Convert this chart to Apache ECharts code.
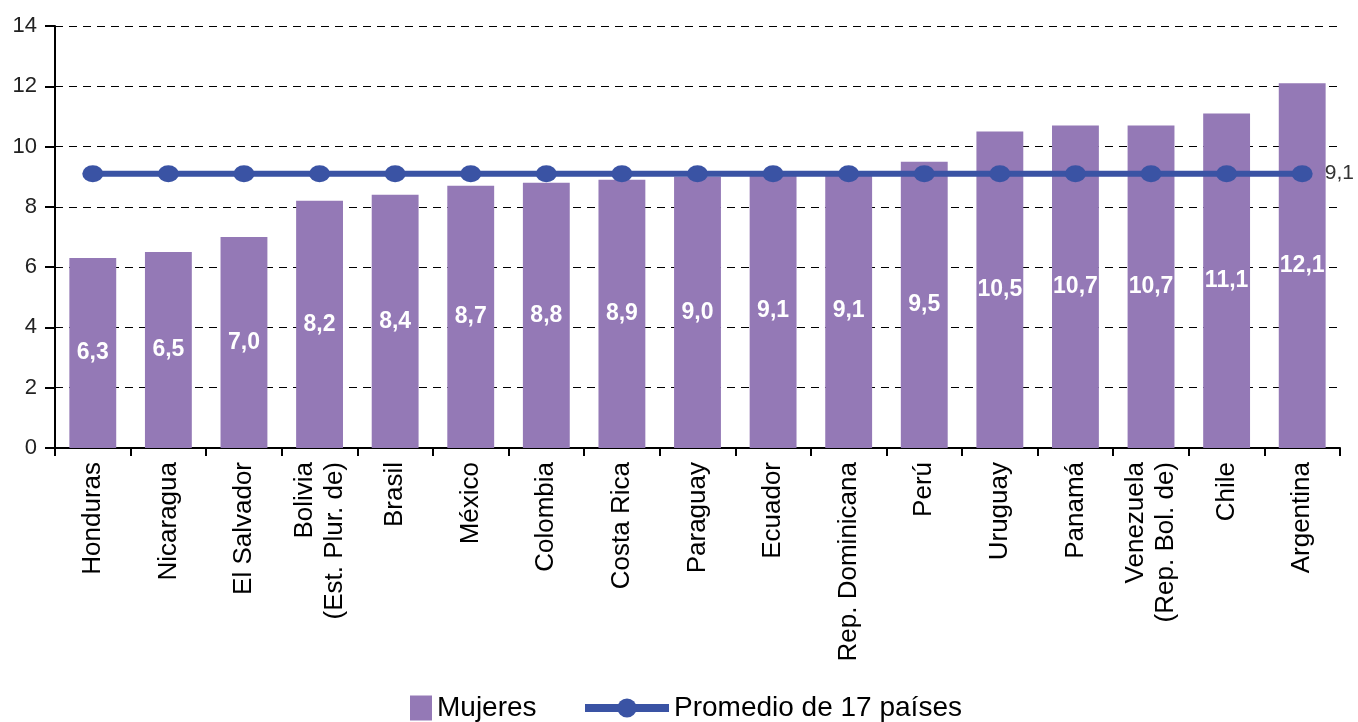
<!DOCTYPE html>
<html>
<head>
<meta charset="utf-8">
<script src="https://cdn.jsdelivr.net/npm/echarts@6/dist/echarts.min.js"></script>
<style>
  html, body { margin: 0; padding: 0; background: #fff; }
  #main { width: 1358px; height: 722px; }
</style>
</head>
<body>
<div id="main"></div>
<script>
const countries = [
  'Honduras', 'Nicaragua', 'El Salvador', 'Bolivia\n(Est. Plur. de)', 'Brasil',
  'México', 'Colombia', 'Costa Rica', 'Paraguay', 'Ecuador',
  'Rep. Dominicana', 'Perú', 'Uruguay', 'Panamá', 'Venezuela\n(Rep. Bol. de)',
  'Chile', 'Argentina'
]
const mujeres = [6.3, 6.5, 7.0, 8.2, 8.4, 8.7, 8.8, 8.9, 9.0, 9.1, 9.1, 9.5, 10.5, 10.7, 10.7, 11.1, 12.1]
const promedio = [9.1, 9.1, 9.1, 9.1, 9.1, 9.1, 9.1, 9.1, 9.1, 9.1, 9.1, 9.1, 9.1, 9.1, 9.1, 9.1, 9.1]
const yTicks = [0, 2, 4, 6, 8, 10, 12, 14]

const fmt = (v) => v.toFixed(1).replace('.', ',')
const font = 'Liberation Sans, Arial, sans-serif'

const chart = echarts.init(document.getElementById('main'))

const option = {
  animation: false,
  textStyle: { fontFamily: font },
  grid: { left: 55, right: 18, top: 26, bottom: 274 },
  legend: [
    {
      data: [{ name: 'Mujeres', icon: 'rect' }],
      left: 405,
      top: 689,
      itemWidth: 22,
      itemHeight: 25,
      itemGap: 8,
      textStyle: { fontSize: 28, color: '#000', fontFamily: font }
    },
    {
      data: ['Promedio de 17 países'],
      left: 576,
      top: 689,
      itemWidth: 84,
      itemHeight: 24,
      itemGap: 8,
      lineStyle: { width: 8 },
      textStyle: { fontSize: 28, color: '#000', fontFamily: font }
    }
  ],
  xAxis: {
    type: 'category',
    data: countries,
    axisLine: { lineStyle: { color: '#000', width: 2 } },
    axisTick: { show: true, length: 8, lineStyle: { color: '#000', width: 2 } },
    axisLabel: {
      rotate: 90,
      fontSize: 26,
      color: '#000',
      margin: 14,
      lineHeight: 30,
      fontFamily: font
    }
  },
  yAxis: {
    type: 'value',
    min: yTicks[0],
    max: yTicks[yTicks.length - 1],
    interval: 2,
    axisLine: { show: true, lineStyle: { color: '#000', width: 2 } },
    axisTick: { show: true, length: 10, lineStyle: { color: '#000', width: 2 } },
    axisLabel: { fontSize: 22, color: '#222', margin: 18, fontFamily: font },
    splitLine: { show: true, lineStyle: { color: '#000', width: 1, type: [8, 6] } }
  },
  series: [
    {
      name: 'Mujeres',
      type: 'bar',
      data: mujeres,
      barWidth: '62%',
      itemStyle: { color: '#9479B6' },
      label: {
        show: true,
        position: 'inside',
        color: '#fff',
        fontWeight: 'bold',
        fontSize: 23,
        fontFamily: font,
        formatter: (p) => fmt(p.value)
      },
      z: 2
    },
    {
      name: 'Promedio de 17 países',
      type: 'line',
      data: promedio,
      symbol: 'circle',
      symbolSize: [21, 17],
      lineStyle: { color: '#3A53A4', width: 6 },
      itemStyle: { color: '#3A53A4' },
      label: {
        show: true,
        position: 'right',
        distance: 12,
        color: '#333',
        fontSize: 21,
        fontFamily: font,
        formatter: (p) => (p.dataIndex === promedio.length - 1 ? fmt(p.value) : '')
      },
      z: 3
    }
  ]
}

chart.setOption(option)
</script>
</body>
</html>
